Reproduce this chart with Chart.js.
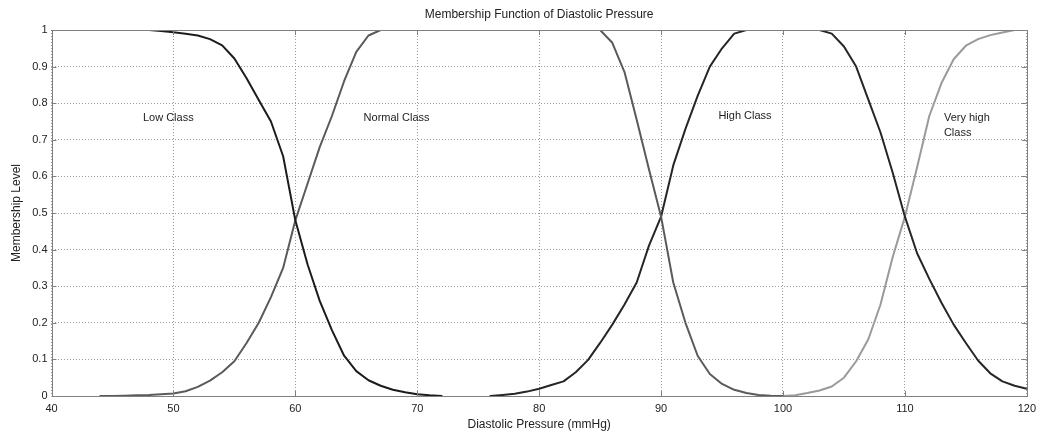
<!DOCTYPE html>
<html>
<head>
<meta charset="utf-8">
<script src="https://cdn.jsdelivr.net/npm/chart.js@4/dist/chart.umd.min.js"></script>
<style>
html,body{margin:0;padding:0;background:#fff;}
#wrap{width:1042px;height:434px;position:relative;}
</style>
</head>
<body>
<div id="wrap"><canvas id="c" width="1042" height="434"></canvas></div>
<script>
// Diastolic pressure (mmHg)
const pressure = [40,41,42,43,44,45,46,47,48,49,50,51,52,53,54,55,56,57,58,59,60,61,62,63,64,65,66,67,68,69,70,71,72,73,74,75,76,77,78,79,80,81,82,83,84,85,86,87,88,89,90,91,92,93,94,95,96,97,98,99,100,101,102,103,104,105,106,107,108,109,110,111,112,113,114,115,116,117,118,119,120];

const lowClass = [1,1,1,1,1,1,1,1,1,0.997,0.994,0.99,0.985,0.975,0.958,0.922,0.868,0.809,0.75,0.655,0.48,0.36,0.26,0.18,0.11,0.068,0.043,0.028,0.017,0.01,0.005,0.002,0,
  null,null,null,null,null,null,null,null,null,null,null,null,null,null,null,null,null,null,null,null,null,null,null,null,null,null,null,null,null,null,null,null,null,null,null,null,null,null,null,null,null,null,null,null,null,null,null,null];

const normalClass = [null,null,null,null,0,0,0.001,0.002,0.003,0.005,0.007,0.013,0.025,0.042,0.065,0.095,0.145,0.2,0.27,0.35,0.48,0.58,0.68,0.765,0.86,0.94,0.985,1,1,1,1,1,1,1,1,1,1,1,1,1,1,1,1,1,1,1,0.965,0.885,0.755,0.62,0.49,0.31,0.2,0.11,0.06,0.033,0.017,0.008,0.003,0.001,0,
  null,null,null,null,null,null,null,null,null,null,null,null,null,null,null,null,null,null,null,null];

const highClass = [null,null,null,null,null,null,null,null,null,null,null,null,null,null,null,null,null,null,null,null,null,null,null,null,null,null,null,null,null,null,null,null,null,null,null,null,
  0,0.003,0.006,0.012,0.02,0.03,0.04,0.065,0.098,0.145,0.195,0.25,0.31,0.41,0.49,0.63,0.73,0.82,0.9,0.95,0.99,1,1,1,1,1,1,1,0.99,0.955,0.9,0.81,0.72,0.61,0.49,0.39,0.32,0.255,0.195,0.145,0.097,0.062,0.04,0.028,0.02];

const veryHighClass = [null,null,null,null,null,null,null,null,null,null,null,null,null,null,null,null,null,null,null,null,null,null,null,null,null,null,null,null,null,null,null,null,null,null,null,null,null,null,null,null,null,null,null,null,null,null,null,null,null,null,null,null,null,null,null,null,null,null,null,null,
  0,0.002,0.008,0.015,0.026,0.05,0.095,0.155,0.25,0.38,0.49,0.625,0.765,0.855,0.92,0.957,0.975,0.986,0.993,1,1];

const xTicks = [40,50,60,70,80,90,100,110,120];
const yTicks = [0,0.1,0.2,0.3,0.4,0.5,0.6,0.7,0.8,0.9,1];

const classLabels = [
  {text:["Low Class"], x:47.5, y:0.76},
  {text:["Normal Class"], x:65.6, y:0.76},
  {text:["High Class"], x:94.7, y:0.765},
  {text:["Very high","Class"], x:113.2, y:0.76}
];

const chartTitle = "Membership Function of Diastolic Pressure";
const xTitle = "Diastolic Pressure (mmHg)";
const yTitle = "Membership Level";

function pts(arr){ return pressure.map((p,i)=>({x:p,y:arr[i]})); }

const FONT = "'Liberation Sans', Arial, sans-serif";

const framePlugin = {
  id:'frame',
  afterDatasetsDraw(chart){
    const {ctx, chartArea:a, scales:{x,y}} = chart;
    ctx.save();
    ctx.strokeStyle = '#808080';
    ctx.lineWidth = 1;
    ctx.setLineDash([]);
    ctx.strokeRect(Math.round(a.left)+0.5, Math.round(a.top)+0.5, Math.round(a.right-a.left), Math.round(a.bottom-a.top));
    const tl = 5;
    ctx.beginPath();
    xTicks.forEach(v=>{
      const px = Math.round(x.getPixelForValue(v))+0.5;
      ctx.moveTo(px, a.bottom); ctx.lineTo(px, a.bottom - tl);
      ctx.moveTo(px, a.top); ctx.lineTo(px, a.top + tl);
    });
    yTicks.forEach(v=>{
      const py = Math.round(y.getPixelForValue(v))+0.5;
      ctx.moveTo(a.left, py); ctx.lineTo(a.left + tl, py);
      ctx.moveTo(a.right, py); ctx.lineTo(a.right - tl, py);
    });
    ctx.stroke();
    // class labels
    ctx.fillStyle = '#222';
    ctx.font = "11px " + FONT;
    ctx.textAlign = 'left';
    ctx.textBaseline = 'middle';
    classLabels.forEach(l=>{
      const px = x.getPixelForValue(l.x), py = y.getPixelForValue(l.y);
      l.text.forEach((t,i)=>ctx.fillText(t, px, py + i*15));
    });
    // titles
    const cx = (a.left + a.right)/2;
    ctx.textAlign = 'center';
    ctx.font = "12px " + FONT;
    ctx.fillText(chartTitle, cx, 15);
    ctx.fillText(xTitle, cx, 425);
    ctx.save();
    ctx.translate(17, (a.top + a.bottom)/2);
    ctx.rotate(-Math.PI/2);
    ctx.fillText(yTitle, 0, 0);
    ctx.restore();
    ctx.restore();
  }
};

const ds = (label, arr, color) => ({
  label, data: pts(arr), borderColor: color, backgroundColor: color,
  borderWidth: 2, pointRadius: 0, tension: 0, spanGaps: false, fill: false,
  borderJoinStyle: 'round', borderCapStyle: 'round'
});

new Chart(document.getElementById('c'), {
  type: 'line',
  data: {
    datasets: [
      ds('Low Class', lowClass, '#1c1c1c'),
      ds('Normal Class', normalClass, '#5a5a5a'),
      ds('High Class', highClass, '#262626'),
      ds('Very high Class', veryHighClass, '#9a9a9a')
    ]
  },
  options: {
    responsive: false,
    animation: false,
    layout: { padding: { left: 0, right: 10, top: 30, bottom: 0 } },
    plugins: { legend: { display: false }, title: { display: false }, tooltip: { enabled: false } },
    scales: {
      x: {
        type: 'linear', min: 40, max: 120,
        afterBuildTicks: s => { s.ticks = xTicks.map(v=>({value:v})); },
        afterFit: s => { s.height = 38; },
        grid: { color: '#9a9a9a', lineWidth: 1, drawTicks: false },
        border: { display: false, dash: [1,2] },
        ticks: { color: '#222', font: { family: FONT, size: 11 }, padding: 6, maxRotation: 0, autoSkip: false }
      },
      y: {
        type: 'linear', min: 0, max: 1,
        afterBuildTicks: s => { s.ticks = yTicks.map(v=>({value:v})); },
        afterFit: s => { s.width = 51.5; },
        grid: { color: '#9a9a9a', lineWidth: 1, drawTicks: false },
        border: { display: false, dash: [1,2] },
        ticks: { color: '#222', font: { family: FONT, size: 11 }, padding: 4, autoSkip: false, callback: v => String(+v.toFixed(1)) }
      }
    }
  },
  plugins: [framePlugin]
});
</script>
</body>
</html>
